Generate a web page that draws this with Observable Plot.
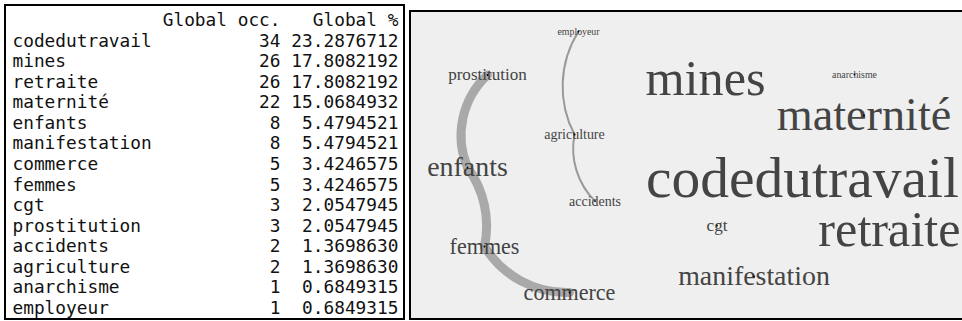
<!DOCTYPE html>
<html><head><meta charset="utf-8">
<script src="https://cdn.jsdelivr.net/npm/d3@7"></script>
<script src="https://cdn.jsdelivr.net/npm/@observablehq/plot@0.6"></script>
<style>
html,body{margin:0;padding:0;background:#fff;width:962px;height:321px;overflow:hidden;}
#table{position:absolute;left:4px;top:4px;width:401px;height:316px;box-sizing:border-box;border:2px solid #000;background:#fff;}
#cloud{position:absolute;left:409px;top:10px;width:570px;height:310px;box-sizing:border-box;border:2px solid #000;background:#efefef;}
svg{display:block}
</style></head><body>
<div id="table"></div><div id="cloud"></div>
<script>
// ---- data ----
const words = ["codedutravail","mines","retraite","maternité","enfants","manifestation","commerce","femmes","cgt","prostitution","accidents","agriculture","anarchisme","employeur"];
const occurrences = [34,26,26,22,8,8,5,5,3,3,2,2,1,1];
const columnHeaders = ["Global occ.","Global %"];
// word-cloud layout: node centres in layout units
const cloudX = [391,294,478,452.5,56,342.5,158,73,305.5,76,183.5,163,443,167];
const cloudY = [166,66,217,103,155,264,280,234,213,62.5,188.6,122,62,19];
// co-occurrence links
const linkSource = ["employeur","agriculture","prostitution","enfants","femmes"];
const linkTarget = ["agriculture","accidents","enfants","femmes","commerce"];
const linkWeight = [1,1,3,3,3];

// ---- table (R print style) ----
const total = d3.sum(occurrences);
const fmtPct = d3.format(".7f");
const rows = words.map((w,i)=>({word:w, count:occurrences[i], pct:fmtPct(occurrences[i]/total*100)}));
const nameW = d3.max(words, w=>w.length);
const occW = Math.max(columnHeaders[0].length, d3.max(rows, r=>String(r.count).length));
const pctW = Math.max(columnHeaders[1].length, d3.max(rows, r=>r.pct.length));
const occEnd = nameW + 1 + occW;
const pctEnd = occEnd + 1 + pctW;
const mono = {fontFamily:"DejaVu Sans Mono", fontSize:17.8, fill:"#111", lineAnchor:"bottom"};

const table = Plot.plot({
  width:397, height:312, margin:0,
  style:{background:"transparent", overflow:"visible"},
  x:{domain:[0,pctEnd], range:[6, 6+pctEnd*10.72], axis:null},
  y:{domain:[0,rows.length], range:[19.5, 19.5+rows.length*20.57], axis:null},
  marks:[
    Plot.text(columnHeaders, {x:(d,i)=>[occEnd,pctEnd][i], y:()=>0, text:d=>d, textAnchor:"end", ...mono}),
    Plot.text(rows, {x:()=>0, y:(d,i)=>i+1, text:"word", textAnchor:"start", ...mono}),
    Plot.text(rows, {x:()=>occEnd, y:(d,i)=>i+1, text:d=>String(d.count), textAnchor:"end", ...mono}),
    Plot.text(rows, {x:()=>pctEnd, y:(d,i)=>i+1, text:"pct", textAnchor:"end", ...mono})
  ]
});
document.getElementById("table").append(table);

// ---- word cloud ----
const nodes = words.map((w,i)=>({word:w, count:occurrences[i], x:cloudX[i], y:cloudY[i]}));
const byWord = new Map(nodes.map(n=>[n.word,n]));
const links = linkSource.map((s,i)=>({source:byWord.get(s), target:byWord.get(linkTarget[i]), weight:linkWeight[i]}));
const size = d3.scaleSqrt().domain([0,d3.max(occurrences)]).range([0,57.5]);
const width = d3.scaleLinear().domain([1,3]).range([2,9]);
const edgeBend = [-30,-28,-35,24,-30];

const cloud = Plot.plot({
  width:551, height:306, margin:0,
  style:{background:"transparent", overflow:"visible"},
  x:{domain:[0,551], range:[0,551], axis:null},
  y:{domain:[0,306], range:[0,306], axis:null},
  marks:[
    ...links.map((l,i)=>Plot.arrow([l], {
      x1:d=>d.source.x, y1:d=>d.source.y, x2:d=>d.target.x, y2:d=>d.target.y,
      bend:edgeBend[i], headLength:0,
      stroke: l.weight>1 ? "#a9a9a9" : "#9a9a9a",
      strokeWidth: width(l.weight), strokeLinecap:"round"
    })),
    Plot.text(nodes, {x:"x", y:"y", text:"word", fontSize:d=>size(d.count),
      fontFamily:"Liberation Serif", fill:"#444", textAnchor:"middle", lineAnchor:"middle"}),
    Plot.dot(nodes, {x:"x", y:"y", r:0.9, fill:"#000"})
  ]
});
document.getElementById("cloud").append(cloud);
</script>
</body></html>
